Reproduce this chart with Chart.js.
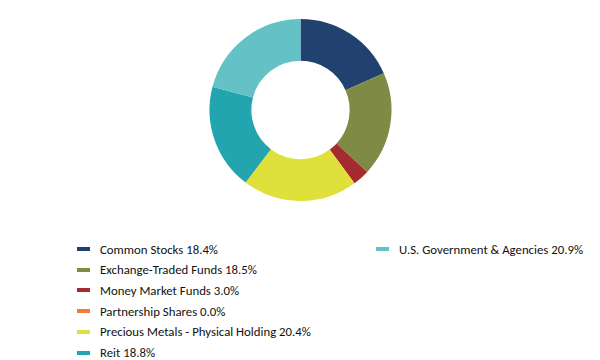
<!DOCTYPE html>
<html>
<head>
<meta charset="utf-8">
<script src="https://cdn.jsdelivr.net/npm/chart.js@4/dist/chart.umd.min.js"></script>
<style>
  html, body { margin: 0; padding: 0; background: #fff; }
  body { width: 600px; height: 360px; position: relative; overflow: hidden; font-family: Carlito, Lato, "Liberation Sans", sans-serif; }
  #wrap { position: absolute; left: 0; top: 19px; width: 601px; height: 182px; }
  .legend { position: absolute; font-size: 12.8px; color: #111; }
  .item { position: absolute; white-space: nowrap; height: 20px; line-height: 20px; }
  .sw { position: absolute; left: 0; top: 8px; width: 13px; height: 4px; }
  .lbl { position: absolute; left: 23px; top: 0.5px; }
</style>
</head>
<body>
<div id="wrap"><canvas id="c"></canvas></div>
<div id="legend"></div>
<script>
const categories = ["Common Stocks", "Exchange-Traded Funds", "Money Market Funds", "Partnership Shares", "Precious Metals - Physical Holding", "Reit", "U.S. Government & Agencies"];
const values = [18.4, 18.5, 3.0, 0.0, 20.4, 18.8, 20.9];
const colors = ["#21426f", "#7f8b45", "#a62b31", "#f07c3b", "#e0e03a", "#23a5b0", "#64c2c6"];

new Chart(document.getElementById('c'), {
  type: 'doughnut',
  data: {
    labels: categories,
    datasets: [{ data: values, backgroundColor: colors, borderWidth: 0, hoverOffset: 0 }]
  },
  options: {
    responsive: true,
    maintainAspectRatio: false,
    animation: false,
    cutout: '54%',
    plugins: { legend: { display: false }, tooltip: { enabled: false } },
    layout: { padding: 0 }
  }
});

// legend built from the same arrays
const legend = document.getElementById('legend');
const col1 = { x: 77, y0: 239, step: 20.7 };
const col2 = { x: 376, y0: 239, step: 20.7 };
categories.forEach((name, i) => {
  const pos = i < 6 ? { x: col1.x, y: col1.y0 + i * col1.step } : { x: col2.x, y: col2.y0 + (i - 6) * col2.step };
  const div = document.createElement('div');
  div.className = 'legend item';
  div.style.left = pos.x + 'px';
  div.style.top = pos.y + 'px';
  div.innerHTML = '<span class="sw" style="background:' + colors[i] + '"></span><span class="lbl"></span>';
  div.querySelector('.lbl').textContent = name + ' ' + values[i].toFixed(1) + '%';
  legend.appendChild(div);
});
</script>
</body>
</html>
